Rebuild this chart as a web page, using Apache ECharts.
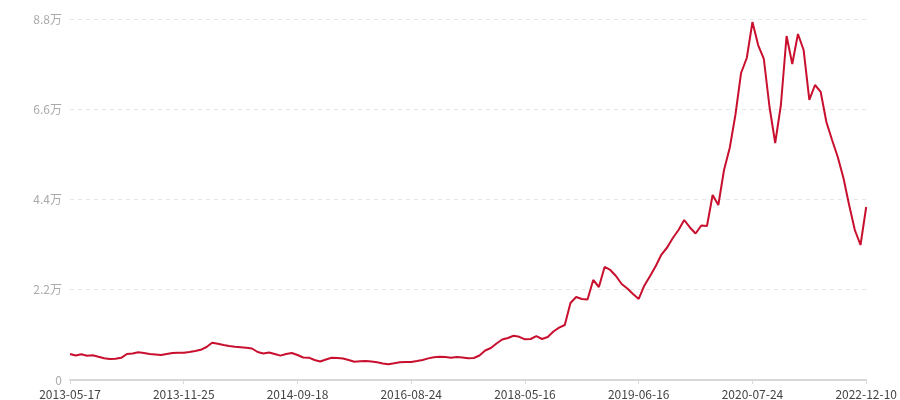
<!DOCTYPE html>
<html>
<head>
<meta charset="utf-8">
<script src="https://cdn.jsdelivr.net/npm/echarts@6/dist/echarts.min.js"></script>
<style>
  html, body { margin: 0; padding: 0; background: #fff; }
  #chart { width: 900px; height: 400px; }
</style>
</head>
<body>
<div id="chart"></div>
<script>
// 轴上显示的日期（每 20 个点一个）
const anchorDates = ['2013-05-17', '2013-11-25', '2014-09-18', '2016-08-24',
  '2018-05-16', '2019-06-16', '2020-07-24', '2022-12-10'];
const stepsPerLabel = 20;

// 数值
const values = [
  6340, 5970, 6270, 5920, 6050, 5660, 5310, 5120, 5190, 5410,
  6340, 6460, 6750, 6580, 6340, 6220, 6090, 6340, 6580, 6660,
  6630, 6830, 7070, 7360, 8040, 9090, 8830, 8530, 8290, 8090,
  7970, 7850, 7680, 6830, 6460, 6700, 6340, 5950, 6340, 6580,
  6090, 5490, 5440, 4880, 4510, 5000, 5410, 5360, 5240, 4880,
  4460, 4560, 4630, 4510, 4320, 4020, 3850, 4070, 4320, 4390,
  4390, 4630, 4880, 5270, 5560, 5660, 5610, 5410, 5610, 5490,
  5290, 5360, 5970, 7190, 7800, 8900, 9870, 10240, 10780, 10530,
  9920, 10000, 10680, 10000, 10480, 11820, 12750, 13410, 18770, 20230,
  19750, 19620, 24380, 22670, 27550, 26820, 25350, 23400, 22310, 20960,
  19750, 23040, 25350, 27790, 30590, 32300, 34620, 36570, 39000, 37180,
  35710, 37660, 37540, 45100, 42660, 51190, 56560, 64600, 74840, 78490,
  87270, 81660, 78250, 66550, 57770, 67040, 83860, 77030, 84340, 80440,
  68260, 71910, 70210, 62890, 58510, 54360, 49240, 42660, 36570, 32910,
  42170
];

// 类目：在两个标注日期之间按天均分
const categories = [];
const pad = n => (n < 10 ? '0' : '') + n;
for (let k = 0; k < anchorDates.length - 1; k++) {
  const a = Date.parse(anchorDates[k]);
  const b = Date.parse(anchorDates[k + 1]);
  for (let j = 0; j < stepsPerLabel; j++) {
    if (j === 0) { categories.push(anchorDates[k]); continue; }
    const d = new Date(a + (b - a) * j / stepsPerLabel);
    categories.push(d.getUTCFullYear() + '-' + pad(d.getUTCMonth() + 1) + '-' + pad(d.getUTCDate()));
  }
}
categories.push(anchorDates[anchorDates.length - 1]);

const chart = echarts.init(document.getElementById('chart'));

chart.setOption({
  backgroundColor: '#fff',
  animation: false,
  textStyle: { fontFamily: '"Noto Sans CJK SC", "Noto Sans", sans-serif' },
  grid: { left: 70, right: 31, top: 19, bottom: 20, containLabel: false },
  xAxis: {
    type: 'category',
    data: categories,
    boundaryGap: false,
    axisLine: { lineStyle: { color: '#d9d9d9', width: 2 } },
    axisTick: { interval: stepsPerLabel - 1, lineStyle: { color: '#d9d9d9' }, length: 4 },
    axisLabel: { interval: stepsPerLabel - 1, color: '#444', fontSize: 12, margin: 8 },
    splitLine: { show: false }
  },
  yAxis: {
    type: 'value',
    min: 0,
    max: 88000,
    interval: 22000,
    axisLine: { show: false },
    axisTick: { show: false },
    axisLabel: {
      color: '#aaa',
      fontSize: 12,
      margin: 8,
      formatter: v => (v === 0 ? '0' : (v / 10000) + '万')
    },
    splitLine: { lineStyle: { color: '#e6e6e6', type: [4, 4] } }
  },
  series: [{
    type: 'line',
    data: values,
    showSymbol: false,
    lineStyle: { color: '#c8102e', width: 2 },
    itemStyle: { color: '#c8102e' }
  }]
});
</script>
</body>
</html>
